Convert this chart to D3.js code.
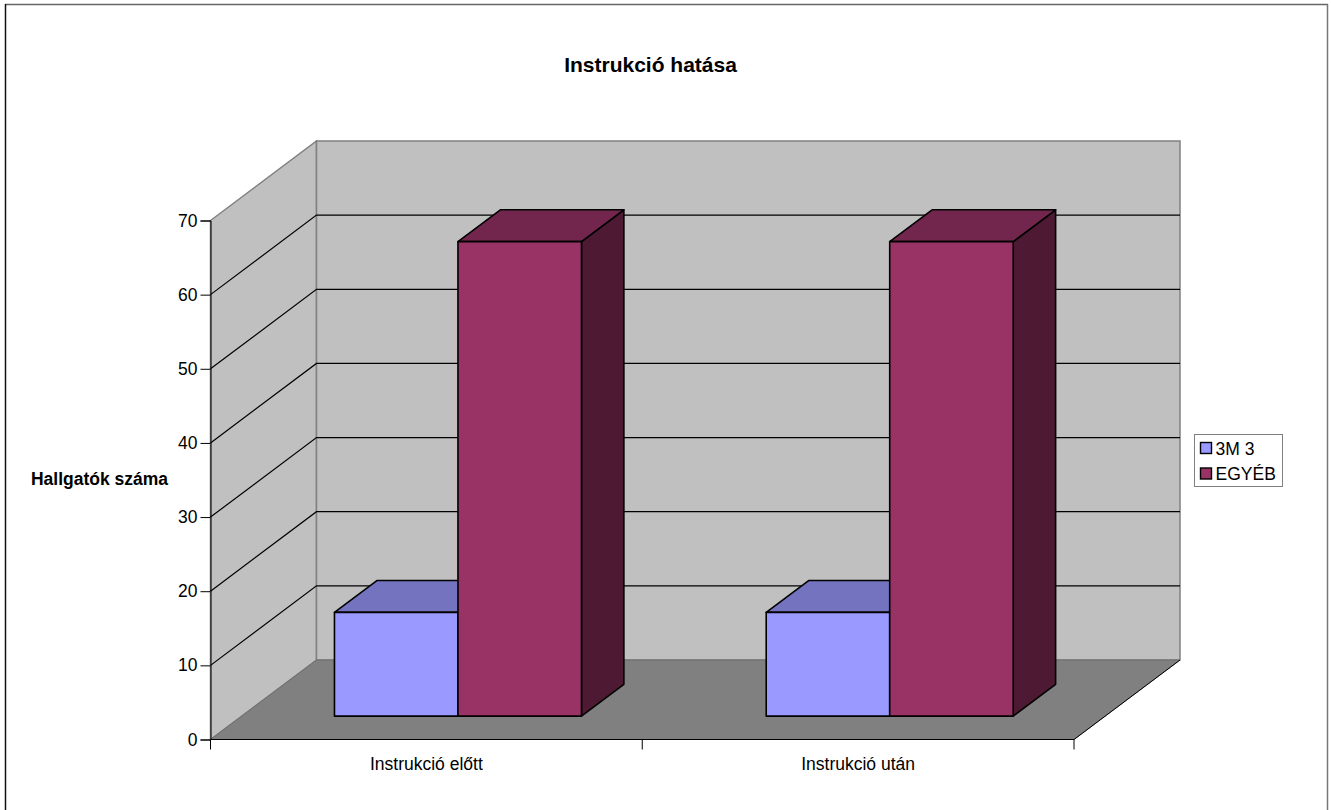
<!DOCTYPE html>
<html>
<head>
<meta charset="utf-8">
<script src="https://cdn.jsdelivr.net/npm/d3@7"></script>
<style>
    html, body { margin: 0; padding: 0; background: #fff; overflow: hidden; }
    text { font-family: "Liberation Sans", Arial, sans-serif; fill: #000; }
</style>
</head>
<body>
<svg id="chart" width="1331" height="810"></svg>
<script>
const categories = ["Instrukció előtt", "Instrukció után"];
const seriesNames = ["3M 3", "EGYÉB"];
const series3M = [14, 14];
const seriesEgyeb = [64, 64];
const yTicks = [0, 10, 20, 30, 40, 50, 60, 70];
const titleText = "Instrukció hatása";
const yTitleText = "Hallgatók száma";

const svg = d3.select("#chart");

//chart frame, open at the bottom like the reference
svg.append("line").attr("x1", 5).attr("x2", 1328).attr("y1", 4.5).attr("y2", 4.5)
    .attr("stroke", "#666").attr("stroke-width", 1.5);
svg.append("line").attr("x1", 1327.5).attr("x2", 1327.5).attr("y1", 4).attr("y2", 810)
    .attr("stroke", "#777").attr("stroke-width", 1.5);
svg.append("line").attr("x1", 5.5).attr("x2", 5.5).attr("y1", 4).attr("y2", 810)
    .attr("stroke", "#111").attr("stroke-width", 1.5);

//set scales
const xScale = d3.scaleBand().domain(categories).range([210.5, 1074]);
const barScale = d3.scaleBand().domain(seriesNames).range([92.8, 339.8]);
const yScale = d3.scaleLinear().domain([0, 70]).range([739.5, 220.5]);
// depth: 0 at the front of the box, 1 at the back wall
const dxScale = d3.scaleLinear().domain([0, 1]).range([0, 106]);
const dyScale = d3.scaleLinear().domain([0, 1]).range([0, -79.5]);

const project = (x, v, z) => [x + dxScale(z), yScale(v) + dyScale(z)];
const pathOf = pts => "M" + pts.map(p => p.join(",")).join("L") + "Z";

const x0 = xScale.range()[0], x1 = xScale.range()[1];
const WALL = "#c0c0c0", FLOOR = "#808080", WALL_LINE = "#808080";

//walls and floor
svg.append("path").attr("d", pathOf([project(x0, 0, 0), project(x0, 0, 1), project(x0, 70, 1), project(x0, 70, 0)]))
    .attr("fill", WALL).attr("stroke", WALL_LINE).attr("stroke-width", 1.5);
svg.append("path").attr("d", pathOf([project(x0, 0, 1), project(x1, 0, 1), project(x1, 70, 1), project(x0, 70, 1)]))
    .attr("fill", WALL).attr("stroke", WALL_LINE).attr("stroke-width", 1.5);
svg.append("path").attr("d", pathOf([project(x0, 0, 0), project(x1, 0, 0), project(x1, 0, 1), project(x0, 0, 1)]))
    .attr("fill", FLOOR).attr("stroke", "#6e6e6e").attr("stroke-width", 1);

//gridlines
const gridValues = yTicks.filter(d => d > 0 && d < 70);
svg.append("g").selectAll("path").data(gridValues).join("path")
    .attr("d", d => d3.line()([project(x0, d, 0), project(x0, d, 1), project(x1, d, 1)]))
    .attr("fill", "none").attr("stroke", "#000").attr("stroke-width", 1.2);

//axes
const yAxis = d3.axisLeft(yScale).tickValues(yTicks).tickSize(10).tickPadding(3).tickFormat(d3.format("d"));
const yG = svg.append("g").attr("transform", "translate(210.5,0)").call(yAxis);
yG.select(".domain").attr("stroke", "#000");
yG.selectAll("text").attr("font-size", 17.5).attr("font-family", '"Liberation Sans", Arial, sans-serif');

svg.append("line").attr("x1", x0).attr("x2", x1).attr("y1", yScale(0)).attr("y2", yScale(0)).attr("stroke", "#000");
svg.append("line").attr("x1", x1).attr("x2", project(x1, 0, 1)[0]).attr("y1", yScale(0)).attr("y2", project(x1, 0, 1)[1])
    .attr("stroke", "#000");
const xTickPos = [x0].concat(categories.map(c => xScale(c) + xScale.bandwidth()));
svg.append("g").selectAll("line").data(xTickPos).join("line")
    .attr("x1", d => d).attr("x2", d => d)
    .attr("y1", yScale(0)).attr("y2", yScale(0) + 10)
    .attr("stroke", "#000");
svg.append("g").selectAll("text").data(categories).join("text")
    .attr("x", d => xScale(d) + xScale.bandwidth() / 2)
    .attr("y", 770)
    .attr("text-anchor", "middle")
    .attr("font-size", 17.5)
    .text(d => d);

//bars
const barFront = 0.294, barBack = 0.694;
const colors = {
    "3M 3": { front: "#9999ff", top: "#7373bf", side: "#4d4d80" },
    "EGYÉB": { front: "#993366", top: "#73264d", side: "#4d1933" }
};
const barData = [];
categories.forEach((c, i) => {
    barData.push({ cat: c, name: seriesNames[0], value: series3M[i] });
    barData.push({ cat: c, name: seriesNames[1], value: seriesEgyeb[i] });
});
const bars = svg.append("g").selectAll("g").data(barData).join("g")
    .attr("stroke", "#000").attr("stroke-width", 1.6).attr("stroke-linejoin", "round");
const left = d => xScale(d.cat) + barScale(d.name);
const right = d => left(d) + barScale.bandwidth();
bars.append("path").attr("fill", d => colors[d.name].side)
    .attr("d", d => pathOf([project(right(d), 0, barFront), project(right(d), 0, barBack),
        project(right(d), d.value, barBack), project(right(d), d.value, barFront)]));
bars.append("path").attr("fill", d => colors[d.name].top)
    .attr("d", d => pathOf([project(left(d), d.value, barFront), project(right(d), d.value, barFront),
        project(right(d), d.value, barBack), project(left(d), d.value, barBack)]));
bars.append("path").attr("fill", d => colors[d.name].front)
    .attr("d", d => pathOf([project(left(d), 0, barFront), project(right(d), 0, barFront),
        project(right(d), d.value, barFront), project(left(d), d.value, barFront)]));

//titles
svg.append("text").attr("x", 650.5).attr("y", 72).attr("text-anchor", "middle")
    .attr("font-size", 21).attr("font-weight", "bold").text(titleText);
svg.append("text").attr("x", 99.5).attr("y", 485).attr("text-anchor", "middle")
    .attr("font-size", 17.5).attr("font-weight", "bold").text(yTitleText);

//legend
const legend = svg.append("g");
legend.append("rect").attr("x", 1194.5).attr("y", 434.5).attr("width", 88).attr("height", 52)
    .attr("fill", "#fff").attr("stroke", "#808080").attr("stroke-width", 1);
const legendRow = d3.scalePoint().domain(seriesNames).range([448, 473.5]);
legend.selectAll("rect.key").data(seriesNames).join("rect").attr("class", "key")
    .attr("x", 1200.5).attr("y", d => legendRow(d) - 5.5).attr("width", 11).attr("height", 11)
    .attr("fill", d => colors[d].front).attr("stroke", "#000").attr("stroke-width", 1.4);
legend.selectAll("text").data(seriesNames).join("text")
    .attr("x", 1215.5).attr("y", d => legendRow(d) + 6.5)
    .attr("font-size", 17.5).text(d => d);
</script>
</body>
</html>
